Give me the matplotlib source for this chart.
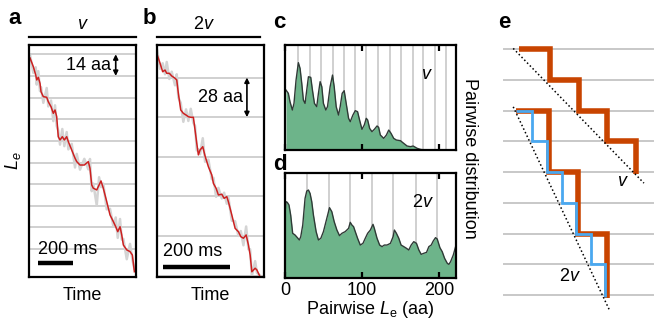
import matplotlib
matplotlib.use("Agg")
import matplotlib.pyplot as plt

plt.rcParams['font.family'] = ['Liberation Sans', 'DejaVu Sans']
plt.rcParams['font.size'] = 13
plt.rcParams['mathtext.fontset'] = 'custom'
plt.rcParams['mathtext.rm'] = 'Liberation Sans'
plt.rcParams['mathtext.it'] = 'Liberation Sans:italic'

# ---- panel a: single speed (v) trace, time in ms, Le in aa
a_t = [5.7, 24.6, 38.3, 44, 53, 62.8, 68.5, 81.7, 101, 110, 125.6, 138.8, 148.5, 158,
       167, 177, 190, 201.6, 215, 224.5, 243.8, 262.7, 272.4, 291, 315.8, 338.6, 348,
       358, 367, 386.6, 400, 411, 424, 443.7, 462.5, 481.4, 495, 506.5, 519.6, 529.3,
       538.5, 558, 576.7, 590, 601.5]
a_le = [141.6, 136.0, 130.6, 127.4, 129.1, 125.2, 119.8, 116.6, 116.2, 113.3, 110.1,
        105.8, 108.0, 103.6, 90.7, 88.6, 90.7, 88.6, 90.7, 87.5, 82.1, 76.8, 74.6, 72.4,
        72.4, 74.6, 70.3, 59.5, 57.4, 56.3, 59.5, 62.1, 57.4, 48.7, 40.1, 35.8, 32.5,
        29.3, 32.5, 27.2, 20.7, 17.5, 16.4, 14.2, 3.4]
a_raw_dev = [2, -4, 5, -3, 4, -5, 3, -4, 6, -3, 4, -5, 3, -6, 4, -3, 5, -4, 3, -5, 4,
             -6, 5, -3, 4, -5, 6, -4, 3, -10, 5, -4, 3, -5, 4, -3, 6, -4, 5, -3, 4, -6,
             5, -3, 2]
a_grid = [144, 130, 116, 102, 88, 74, 60, 46, 32, 18]

# ---- panel b: double speed (2v) trace
b_t = [0.9, 9, 17, 23.9, 29, 36.7, 43.9, 53.7, 58.8, 63.6, 70.7, 78.5, 86.6, 93.4,
       100.6, 108.4, 113.4, 118.5, 123.3, 128.4, 136.4, 143.3, 153.1, 163.3, 168.1,
       176.1, 183, 193.1, 200, 208, 212.8, 223, 232.8, 242.7, 249.8, 257.6, 265.7,
       272.5, 277.6, 282.7, 292.5, 297.6, 307.5]
b_le = [155.9, 150.1, 144.1, 145.3, 143.0, 143.0, 141.1, 139.5, 138.3, 128.9, 117.1,
        114.7, 113.5, 112.3, 111.9, 111.9, 102.9, 93.5, 85.3, 88.8, 91.1, 84.5, 77.0,
        71.1, 65.2, 61.7, 57.0, 57.5, 54.6, 55.8, 52.2, 42.8, 33.4, 31.0, 27.5, 26.4,
        28.7, 21.6, 14.6, 2.7, 5.2, 4.0, -1]
b_raw_dev = [3, -4, 6, -3, 8, -4, 3, -5, 4, -3, 5, -6, 4, -3, 6, -4, 3, -5, 4, -3, 6,
             -4, 5, -3, 4, -6, 5, -3, 4, -5, 3, -4, 5, -3, 4, -5, 6, -3, 4, -3, 5, -2, 1]
b_grid = [140, 112, 84, 56, 28, 0]

# ---- panels c, d: pairwise distributions
c_x = [1.3, 4.35, 6.5, 9.6, 11.7, 14.4, 17.4, 19.6, 21.8, 23.9, 26.1, 28.3, 30.5, 33.5,
       35.7, 38.3, 41.3, 43.5, 45.7, 47.9, 50.0, 53.1, 55.3, 58.7, 61.8, 64.0, 66.6,
       69.6, 71.8, 74.4, 77.0, 79.6, 82.7, 84.9, 88.3, 91.4, 94.4, 97.0, 100.1, 103.1,
       105.7, 107.5, 110.1, 113.1, 116.2, 119.7, 121.8, 124.0, 128.4, 131.9, 134.9,
       137.9, 141.4, 144.9, 150.1, 154.5, 158.8, 163.2, 166.7, 171.9, 176.2, 180.6,
       187.1, 222]
c_y = [0.571, 0.540, 0.460, 0.381, 0.444, 0.667, 0.832, 0.778, 0.635, 0.476, 0.444,
       0.571, 0.698, 0.692, 0.571, 0.444, 0.413, 0.540, 0.651, 0.603, 0.444, 0.381,
       0.413, 0.603, 0.714, 0.603, 0.413, 0.333, 0.413, 0.540, 0.565, 0.444, 0.302,
       0.270, 0.333, 0.375, 0.365, 0.286, 0.197, 0.238, 0.302, 0.286, 0.206, 0.175,
       0.197, 0.229, 0.216, 0.143, 0.111, 0.143, 0.190, 0.159, 0.111, 0.095, 0.089,
       0.063, 0.038, 0.032, 0.038, 0.016, 0.006, 0.0, 0.0, 0.0]
c_lines = [17, 32, 47, 62, 77, 91, 106, 121, 136, 151, 166, 180, 195, 210]

d_x = [0, 1.3, 3.0, 5.2, 7.4, 10.0, 13.1, 16.1, 18.7, 20.5, 23.1, 26.1, 28.3, 30.5,
       32.6, 34.8, 37.0, 40.5, 43.5, 46.6, 50.0, 54.4, 57.9, 60.9, 64.0, 67.5, 70.9,
       74.0, 78.3, 82.7, 84.9, 87.0, 89.2, 91.4, 94.4, 97.9, 101.4, 104.4, 107.5, 111.0,
       114.5, 116.2, 119.7, 123.1, 126.2, 129.2, 132.7, 137.1, 140.6, 142.3, 144.9,
       148.0, 151.0, 154.5, 158.0, 161.0, 164.1, 167.5, 171.0, 174.1, 177.1, 180.6,
       184.1, 187.1, 190.2, 192.8, 195.8, 198.0, 201.5, 204.5, 207.6, 211.1, 213.2,
       215.4, 218.9, 221.9]
d_y = [0.62, 0.726, 0.719, 0.694, 0.599, 0.426, 0.410, 0.385, 0.363, 0.394, 0.505,
       0.757, 0.826, 0.836, 0.804, 0.726, 0.599, 0.442, 0.363, 0.379, 0.442, 0.568,
       0.669, 0.631, 0.536, 0.457, 0.404, 0.426, 0.442, 0.473, 0.530, 0.505, 0.489,
       0.442, 0.379, 0.315, 0.331, 0.379, 0.426, 0.457, 0.511, 0.473, 0.379, 0.315,
       0.300, 0.315, 0.315, 0.331, 0.394, 0.457, 0.426, 0.379, 0.315, 0.300, 0.284,
       0.268, 0.315, 0.347, 0.331, 0.268, 0.227, 0.237, 0.246, 0.300, 0.315, 0.353,
       0.385, 0.372, 0.290, 0.252, 0.189, 0.142, 0.132, 0.158, 0.221, 0.300]
d_lines = [29, 57, 85, 113, 141, 170, 198]

# ---- panel e: schematic staircases (x in step units, y in gridline units)
e_levels = [0, -1, -2, -3, -4, -5, -6, -7, -8]
v_xs, v_lv, v_end = [0.5, 1.5, 2.45, 3.35, 4.3], [0, -1, -2, -3], -4.05
v2_xs, v2_lv, v2_end = [0.4, 1.45, 2.4, 3.35], [-2, -4, -6], -8.1
blue_xs, blue_lv, blue_end = [0.4, 0.9, 1.4, 1.87, 2.35, 2.82, 3.3], [-2, -3, -4, -5, -6, -7], -8.05
v_dots = ([0.30, 4.55], [0.02, -4.36])
v2_dots = ([0.30, 3.43], [-1.88, -8.49])

GREEN = '#6db48a'
ORANGE = '#c84400'
BLUE = '#4aa8f0'
GRID = '#c8c8c8'


def steps(xs, levels, end):
    px, py = [], []
    for i, lv in enumerate(levels):
        px += [xs[i], xs[i + 1]]
        py += [lv, lv]
    px.append(xs[-1])
    py.append(end)
    return px, py


def trace_panel(ax, t, le, dev, grid, xmax, ylim):
    for g in grid:
        ax.axhline(g, color=GRID, lw=1.2, zorder=0)
    ax.plot(t, [v + d for v, d in zip(le, dev)], color='#d4d4d4', lw=1.8, zorder=1)
    ax.plot(t, le, color='#cc2020', lw=1.1, zorder=2)
    ax.set_xlim(0, xmax)
    ax.set_ylim(*ylim)
    ax.set_xticks([])
    ax.set_yticks([])
    for s in ax.spines.values():
        s.set_linewidth(1.6)
    ax.set_xlabel('Time', labelpad=7)


fig = plt.figure(figsize=(6.55, 3.24), dpi=100)

# a
ax_a = fig.add_axes([0.0443, 0.1451, 0.1634, 0.716])
trace_panel(ax_a, a_t, a_le, a_raw_dev, a_grid, 611, (0, 150))
ax_a.set_ylabel('$L_e$', labelpad=4)
ax_a.annotate('', xy=(495, 144), xytext=(495, 130),
              arrowprops=dict(arrowstyle='<|-|>', color='black', lw=1.2,
                              mutation_scale=7, shrinkA=0, shrinkB=0))
ax_a.text(470, 137, '14 aa', ha='right', va='center')
ax_a.plot([51, 251], [9, 9], color='black', lw=3.2, solid_capstyle='butt')
ax_a.text(51, 12, '200 ms', ha='left', va='bottom')
ax_a.plot([0, 1], [1.034, 1.034], transform=ax_a.transAxes, color='black',
          lw=1.6, clip_on=False)
ax_a.text(0.5, 1.05, '$v$', transform=ax_a.transAxes, ha='center', va='bottom')

# b
ax_b = fig.add_axes([0.2397, 0.1451, 0.1634, 0.716])
trace_panel(ax_b, b_t, b_le, b_raw_dev, b_grid, 319, (-1, 163))
ax_b.annotate('', xy=(268, 140), xytext=(268, 112),
              arrowprops=dict(arrowstyle='<|-|>', color='black', lw=1.2,
                              mutation_scale=7, shrinkA=0, shrinkB=0))
ax_b.text(256, 126, '28 aa', ha='right', va='center')
ax_b.plot([18, 218], [6, 6], color='black', lw=3.2, solid_capstyle='butt')
ax_b.text(18, 11, '200 ms', ha='left', va='bottom')
ax_b.plot([0, 0.963], [1.034, 1.034], transform=ax_b.transAxes, color='black',
          lw=1.6, clip_on=False)
ax_b.text(0.44, 1.05, '2$v$', transform=ax_b.transAxes, ha='center', va='bottom')

# c, d
ax_c = fig.add_axes([0.4351, 0.537, 0.2606, 0.324])
ax_d = fig.add_axes([0.4351, 0.141, 0.2606, 0.326])
for ax, x, y, lines in [(ax_c, c_x, c_y, c_lines), (ax_d, d_x, d_y, d_lines)]:
    for xl in lines:
        ax.axvline(xl, color=GRID, lw=1.2, zorder=0)
    ax.fill_between(x, 0, y, color=GREEN, lw=0, zorder=1)
    ax.plot(x, y, color='#2f3a36', lw=1.0, zorder=2)
    ax.set_xlim(0, 222)
    ax.set_ylim(0, 1)
    ax.set_yticks([])
    ax.set_xticks([0, 100, 200])
    ax.tick_params(axis='x', direction='in', top=True, length=4, width=1.6, pad=3)
    for s in ax.spines.values():
        s.set_linewidth(1.6)
        s.set_zorder(3)
ax_c.set_xticklabels([])
ax_c.text(0.83, 0.72, '$v$', transform=ax_c.transAxes, ha='center', va='center')
ax_d.text(0.81, 0.72, '2$v$', transform=ax_d.transAxes, ha='center', va='center')
ax_d.set_xlabel('Pairwise $L_\\mathrm{e}$ (aa)', labelpad=0)
fig.text(0.717, 0.51, 'Pairwise distribution', rotation=270, ha='center', va='center')

# e
ax_e = fig.add_axes([490 / 655, 4 / 324, 165 / 655, 290 / 324])
ax_e.set_xlim(-0.455, 4.91)
ax_e.set_ylim(-8.81, 0.618)
ax_e.axis('off')
for lv in e_levels:
    ax_e.plot([0, 4.85], [lv, lv], color=GRID, lw=1.4, zorder=0)
for xs, lv, end in [(v_xs, v_lv, v_end), (v2_xs, v2_lv, v2_end)]:
    sx, sy = steps(xs, lv, end)
    ax_e.plot(sx, sy, color=ORANGE, lw=4.0, solid_capstyle='butt',
              solid_joinstyle='miter', zorder=1)
sx, sy = steps(blue_xs, blue_lv, blue_end)
ax_e.plot(sx, sy, color=BLUE, lw=2.0, solid_capstyle='butt',
          solid_joinstyle='miter', zorder=2)
for dx, dy in [v_dots, v2_dots]:
    ax_e.plot(dx, dy, color='black', lw=1.1, ls=(0, (1, 1.6)), zorder=3)
ax_e.text(3.87, -4.3, '$v$', ha='center', va='center')
ax_e.text(2.15, -7.4, '2$v$', ha='center', va='center')

# panel letters
for lbl, px, py in [('a', 8, 18), ('b', 143, 18), ('c', 273, 22), ('d', 273, 165), ('e', 498, 22)]:
    fig.text(px / 655, 1 - py / 324, lbl, fontsize=16, fontweight='bold',
             ha='left', va='center')

fig.savefig('out.png', dpi=100)
